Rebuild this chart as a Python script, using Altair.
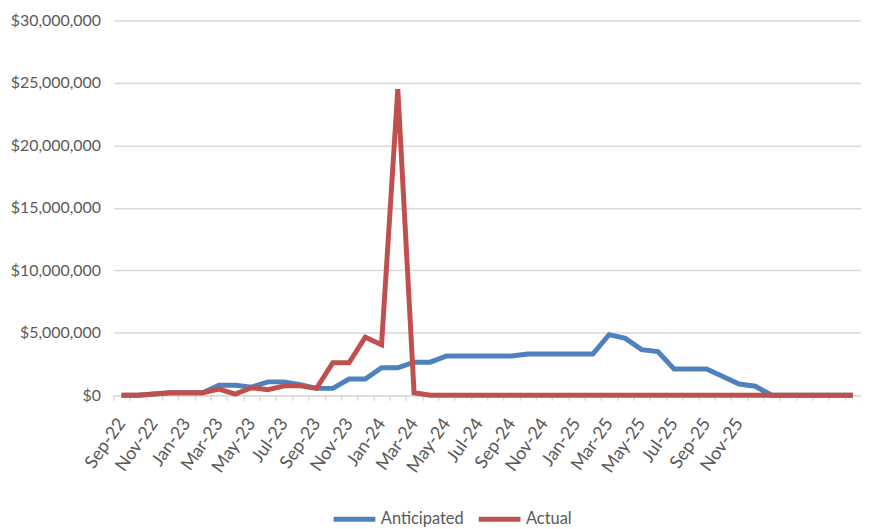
import altair as alt
import pandas as pd

# ---- data ----
month_labels = [
    "Sep-22", "Oct-22", "Nov-22", "Dec-22", "Jan-23", "Feb-23", "Mar-23", "Apr-23",
    "May-23", "Jun-23", "Jul-23", "Aug-23", "Sep-23", "Oct-23", "Nov-23", "Dec-23",
    "Jan-24", "Feb-24", "Mar-24", "Apr-24", "May-24", "Jun-24", "Jul-24", "Aug-24",
    "Sep-24", "Oct-24", "Nov-24", "Dec-24", "Jan-25", "Feb-25", "Mar-25", "Apr-25",
    "May-25", "Jun-25", "Jul-25", "Aug-25", "Sep-25", "Oct-25", "Nov-25", "Dec-25",
    "", "", "", "", "", "",
]

anticipated = [
    0, 0, 100000, 200000, 200000, 200000, 800000, 800000,
    650000, 1070000, 1070000, 850000, 550000, 550000, 1300000, 1300000,
    2200000, 2200000, 2650000, 2650000, 3150000, 3150000, 3150000, 3150000,
    3150000, 3300000, 3300000, 3300000, 3300000, 3300000, 4850000, 4550000,
    3650000, 3500000, 2100000, 2100000, 2100000, 1500000, 900000, 720000,
    0, 0, 0, 0, 0, 0,
]

actual = [
    0, 0, 100000, 200000, 200000, 200000, 500000, 100000,
    600000, 450000, 750000, 750000, 550000, 2600000, 2600000, 4650000,
    4050000, 24500000, 200000, 0, 0, 0, 0, 0,
    0, 0, 0, 0, 0, 0, 0, 0,
    0, 0, 0, 0, 0, 0, 0, 0,
    0, 0, 0, 0, 0, 0,
]

series_names = ["Anticipated", "Actual"]
series_colors = ["#4F81BD", "#C0504D"]
y_ticks = [0, 5000000, 10000000, 15000000, 20000000, 25000000, 30000000]

rows = []
for name, vals in zip(series_names, [anticipated, actual]):
    for i, v in enumerate(vals):
        rows.append({"idx": i, "series": name, "value": v})
df = pd.DataFrame(rows)

shown = [lab if i % 2 == 0 else "" for i, lab in enumerate(month_labels)]
label_expr = "[" + ",".join("'" + s + "'" for s in shown) + "][datum.value]"

FONT = "Lato, Liberation Sans, sans-serif"
TXT = "#595959"
GRID = "#d9d9d9"

x_enc = alt.X(
    "idx:O",
    bandPosition=0.5,
    scale=alt.Scale(type="band", paddingInner=0, paddingOuter=0),
    axis=alt.Axis(
        title=None,
        labelExpr=label_expr,
        labelAngle=-55,
        labelAlign="right",
        labelBaseline="middle",
        labelOverlap=False,
        tickBand="extent",
        tickColor=GRID,
        tickSize=5,
        tickWidth=1.5,
        domainColor=GRID,
        domainWidth=1.5,
        labelColor=TXT,
        labelFontSize=18,
        labelFont=FONT,
        labelPadding=20,
        grid=False,
    ),
)
y_enc = alt.Y(
    "value:Q",
    scale=alt.Scale(domain=[0, 30000000], nice=False),
    axis=alt.Axis(
        title=None,
        values=y_ticks,
        format="$,.0f",
        domain=False,
        ticks=False,
        grid=True,
        gridColor=GRID,
        gridWidth=1.5,
        labelColor=TXT,
        labelFontSize=16,
        labelFont=FONT,
        labelPadding=13,
    ),
)
color_enc = alt.Color(
    "series:N",
    scale=alt.Scale(domain=series_names, range=series_colors),
    legend=alt.Legend(
        title=None,
        orient="none",
        direction="horizontal",
        legendX=219,
        legendY=478,
        symbolType="stroke",
        symbolSize=1764,
        symbolStrokeWidth=5,
        labelFontSize=16.5,
        labelFont=FONT,
        labelColor=TXT,
        labelOffset=3,
        columnPadding=4,
    ),
)

base = alt.Chart(df).mark_line(strokeWidth=5, strokeJoin="miter", strokeCap="butt")

layers = [
    base.transform_filter(alt.datum.series == name).encode(x=x_enc, y=y_enc, color=color_enc)
    for name in series_names
]

chart = (
    alt.layer(*layers)
    .properties(
        width=752,
        height=377,
        autosize=alt.AutoSizeParams(type="none"),
        padding={"left": 106, "top": 11, "right": 0, "bottom": 132},
        background="white",
    )
    .configure_view(stroke=None)
    .configure_axisX(labelFontSize=18, labelFont=FONT)
)

chart.save("out.html", embed_options={"renderer": "svg", "actions": False})
